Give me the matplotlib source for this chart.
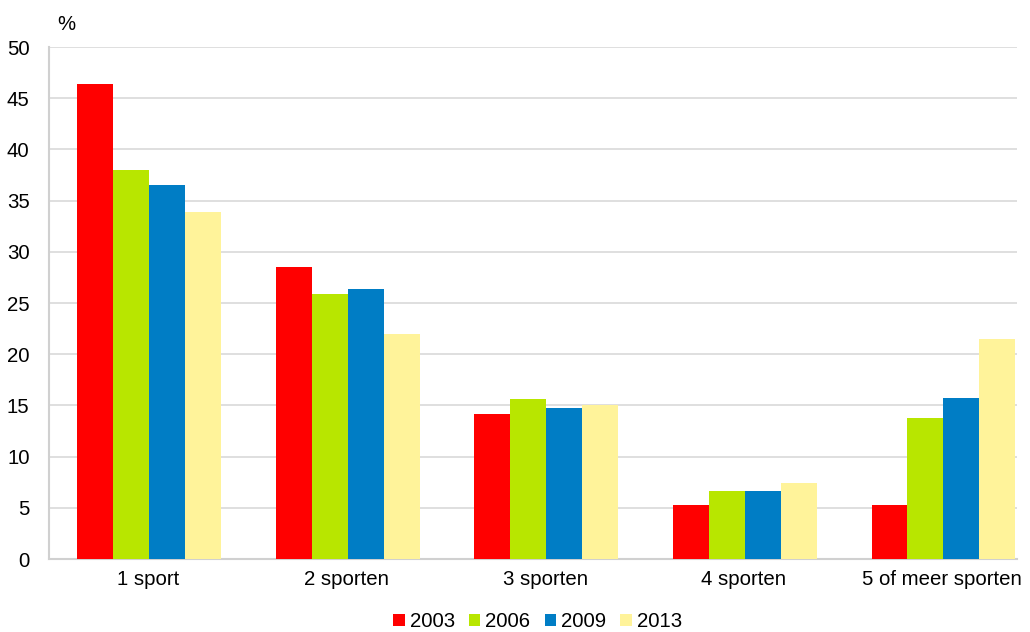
import matplotlib
matplotlib.use("Agg")
import matplotlib.pyplot as plt
import numpy as np

plt.rcParams['font.family'] = ['Liberation Sans', 'DejaVu Sans']

categories = ["1 sport", "2 sporten", "3 sporten", "4 sporten", "5 of meer sporten"]
years = ["2003", "2006", "2009", "2013"]
v2003 = [46.4, 28.5, 14.2, 5.3, 5.3]
v2006 = [38.0, 25.9, 15.6, 6.6, 13.8]
v2009 = [36.5, 26.4, 14.7, 6.6, 15.7]
v2013 = [33.9, 22.0, 15.0, 7.4, 21.5]
colors = ["#ff0000", "#b8e600", "#007dc5", "#fff39a"]
yticks = [0, 5, 10, 15, 20, 25, 30, 35, 40, 45, 50]

series = [v2003, v2006, v2009, v2013]

fig = plt.figure(figsize=(10.3, 6.32), dpi=100)
ax = fig.add_axes([0.0476, 0.1155, 0.94, 0.81])

x = np.arange(len(categories))
w = 0.181
for i, (vals, c, yr) in enumerate(zip(series, colors, years)):
    ax.bar(x + (i - 1.5) * w + 0.005, vals, width=w, color=c, label=yr,
           edgecolor='none', zorder=3)

ax.set_xlim(-0.5, len(categories) - 0.623)
ax.set_ylim(0, 50)
ax.set_yticks(yticks)
ax.set_yticklabels([str(t) for t in yticks], fontsize=14.7)
ax.set_xticks(x)
ax.set_xticklabels(categories, fontsize=14.7)
ax.tick_params(axis='both', length=0, pad=8)
ax.tick_params(axis='y', pad=14)
ax.yaxis.grid(True, color='#d9d9d9', linewidth=1.2, zorder=0)
for s in ['top', 'right']:
    ax.spines[s].set_visible(False)
for s in ['left', 'bottom']:
    ax.spines[s].set_color('#d0d0d0')
    ax.spines[s].set_linewidth(1.5)

fig.text(0.064, 0.962, "%", fontsize=14.7, ha='center', va='center')

handles, labels = ax.get_legend_handles_labels()
leg = fig.legend(handles, labels, loc='center', bbox_to_anchor=(0.522, 0.016),
                 ncol=4, frameon=False, fontsize=14.7, handlelength=0.55,
                 handleheight=0.55, handletextpad=0.25, columnspacing=0.7)

fig.savefig("out.png", dpi=100)
